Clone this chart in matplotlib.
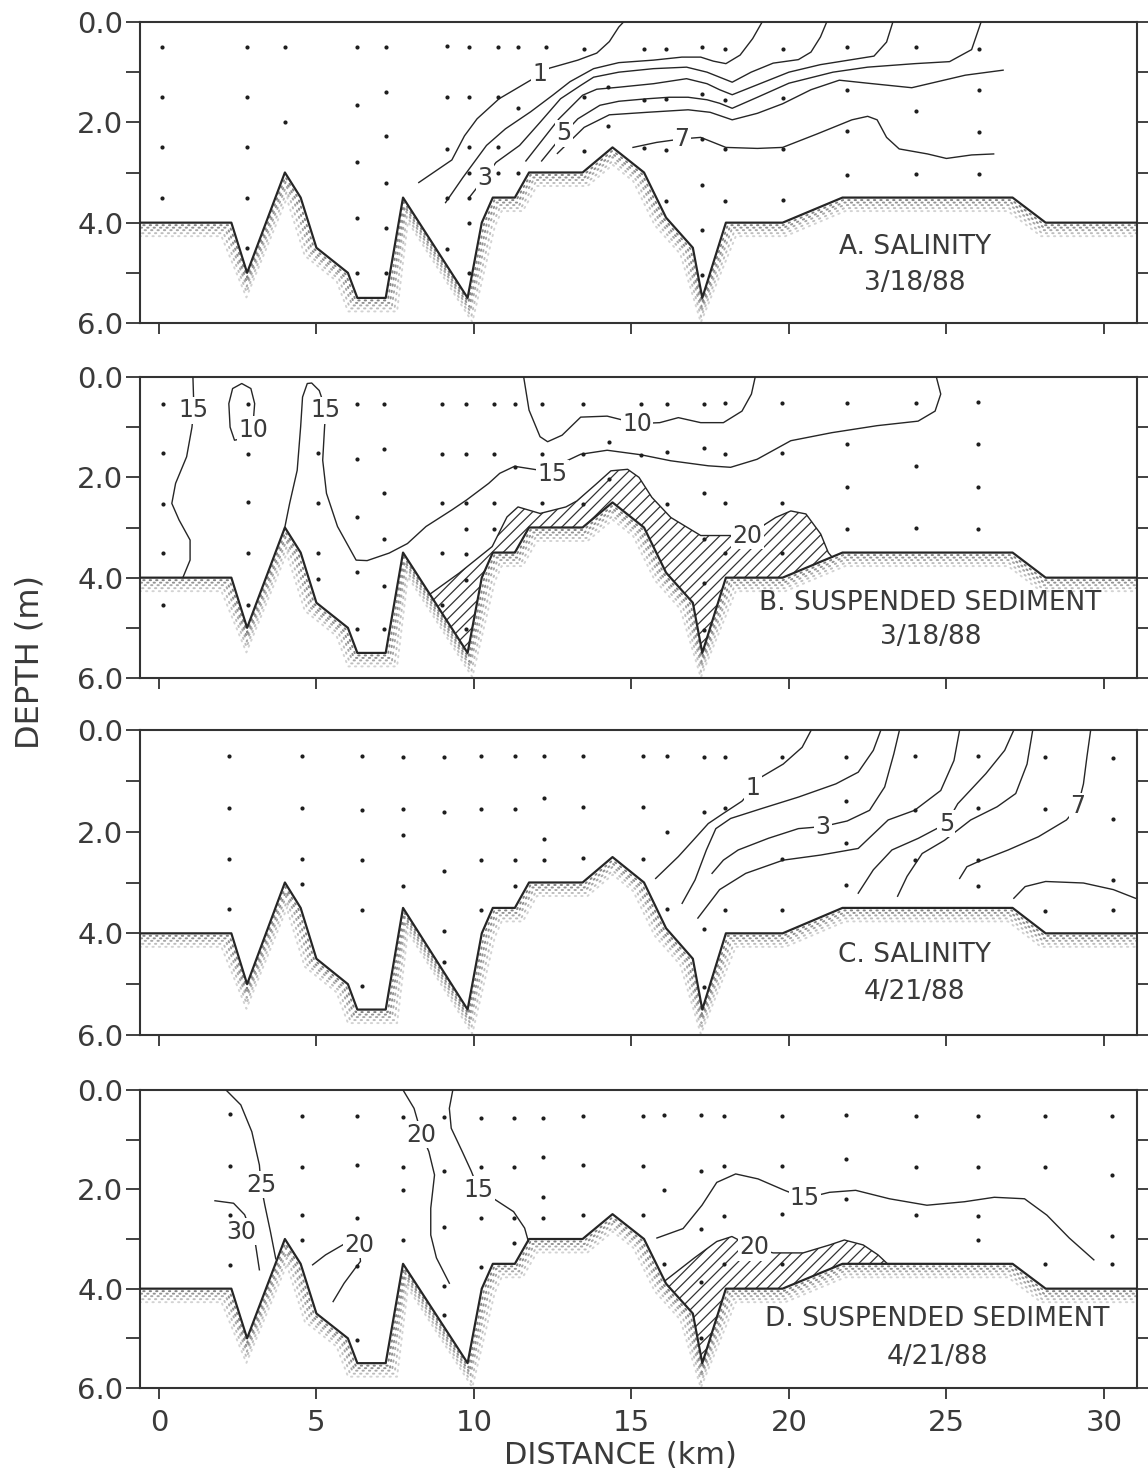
import matplotlib

matplotlib.use("Agg")
import matplotlib.pyplot as plt
import numpy as np

plt.rcParams["font.family"] = ["DejaVu Sans"]
plt.rcParams["hatch.linewidth"] = 0.9

INK = "#262626"
TXT = "#3a3a3a"

# bottom profile along the transect (km, m) - same in all four panels
BOTTOM_X = [-0.7, 2.3, 2.8, 4.0, 4.5, 5.0, 6.0, 6.3, 7.2, 7.75, 9.8, 10.25, 10.6,
            11.3, 11.75, 13.45, 14.4, 15.4, 16.1, 16.95, 17.25, 18.0, 19.8, 21.7,
            27.1, 28.15, 31.3]
BOTTOM_D = [4.0, 4.0, 5.0, 3.0, 3.5, 4.5, 5.0, 5.5, 5.5, 3.5, 5.5, 4.0, 3.5,
            3.5, 3.0, 3.0, 2.5, 3.0, 3.9, 4.5, 5.5, 4.0, 4.0, 3.5,
            3.5, 4.0, 4.0]

# sampling points: station distance and the depths sampled there
STN_A_X = [0.1, 2.8, 4.0, 6.3, 7.2, 9.15, 9.85, 10.75, 11.4, 12.3, 13.5, 14.25,
           15.4, 16.1, 17.25, 17.98, 19.8, 21.85, 24.05, 26.05]
STN_A_D = [[0.5, 1.5, 2.5, 3.5], [0.5, 1.5, 2.5, 3.5, 4.5], [0.5, 2.0],
           [0.5, 1.65, 2.8, 3.9, 5.0], [0.5, 1.4, 2.27, 3.2, 4.1, 5.0],
           [0.47, 1.5, 2.53, 3.5, 4.53], [0.5, 1.5, 2.5, 3.0, 3.5, 4.0, 5.0],
           [0.5, 1.5, 2.5, 3.0], [0.5, 1.72, 3.0], [0.5], [0.54, 1.5, 2.58],
           [1.3, 2.08], [0.54, 1.56, 2.51], [0.54, 1.53, 2.56, 3.56],
           [0.5, 1.44, 2.33, 3.24, 4.14, 5.04], [0.54, 1.56, 2.53, 3.56],
           [0.54, 1.51, 2.53, 3.55], [0.5, 1.35, 2.18, 3.04], [0.5, 1.77, 3.03],
           [0.54, 1.35, 2.2, 3.03]]

STN_B_X = [0.12, 2.83, 5.04, 6.28, 7.16, 9.0, 9.74, 10.64, 11.29, 12.16, 13.45,
           14.29, 15.32, 16.13, 17.32, 17.98, 19.79, 21.85, 24.05, 26.0]
STN_B_D = [[0.53, 1.51, 2.53, 3.51, 4.55], [0.53, 1.53, 2.5, 3.5, 4.55],
           [1.51, 2.51, 3.51, 4.03], [0.53, 1.64, 2.79, 3.88, 5.03],
           [0.53, 1.43, 2.31, 3.22, 4.16, 5.03], [0.53, 1.53, 2.51, 3.5, 4.54],
           [0.53, 1.53, 2.52, 3.03, 3.53, 4.05, 5.03], [0.53, 1.53, 2.52, 3.02],
           [0.53, 1.79], [0.53, 1.53, 2.52], [0.53, 1.54, 2.53], [1.29, 2.04],
           [0.53, 1.55], [0.53, 1.49, 2.53], [0.53, 1.42, 2.32, 3.23, 4.11, 5.05],
           [0.51, 1.53, 2.52, 3.51], [0.51, 1.51, 2.52, 3.51],
           [0.51, 1.33, 2.19, 3.02], [0.51, 1.77, 3.0], [0.49, 1.34, 2.19, 3.02]]

STN_C_X = [2.21, 4.53, 6.44, 7.74, 9.04, 10.21, 11.29, 12.24, 13.45, 15.36, 16.13,
           17.32, 17.98, 19.79, 21.82, 24.0, 26.01, 28.12, 30.3]
STN_C_D = [[0.52, 1.53, 2.53, 3.53], [0.52, 1.53, 2.53, 3.03],
           [0.52, 1.57, 2.55, 3.55, 5.03], [0.54, 1.56, 2.06, 3.06],
           [0.54, 1.62, 2.77, 3.95, 4.56], [0.52, 1.55, 2.55, 3.55],
           [0.52, 1.55, 2.55, 3.06], [0.52, 1.34, 2.15, 2.55], [0.52, 1.51, 2.51],
           [0.52, 1.51, 2.54], [0.52, 2.0, 3.52], [0.53, 1.62, 3.91, 5.05],
           [0.54, 1.53, 3.55], [0.54, 2.54, 3.55], [0.54, 1.4, 2.23, 3.05],
           [0.52, 1.57, 2.56], [0.52, 1.53, 2.56, 3.07], [0.54, 1.56, 3.57],
           [0.55, 1.76, 2.95, 3.54]]

STN_D_X = [2.25, 4.53, 6.29, 7.75, 9.04, 10.21, 11.26, 12.2, 13.45, 15.36, 16.05,
           17.21, 17.95, 19.77, 21.82, 24.02, 25.99, 28.13, 30.27]
STN_D_D = [[0.49, 1.54, 2.51, 3.52], [0.52, 1.56, 2.51, 3.03],
           [0.52, 1.51, 2.57, 3.54, 5.04], [0.54, 1.56, 2.01, 3.02],
           [0.54, 1.64, 2.75, 3.94, 4.54], [0.56, 1.56, 2.57, 3.57],
           [0.56, 1.56, 2.57, 3.08], [0.56, 1.35, 2.16, 2.57], [0.52, 1.51, 2.52],
           [0.53, 1.54, 2.52], [0.51, 2.02, 3.5], [0.5, 1.64, 2.79, 3.86, 5.0],
           [0.52, 1.53, 2.53, 3.5], [0.52, 1.54, 2.49, 3.5], [0.5, 1.38, 2.19],
           [0.53, 1.55, 2.52], [0.53, 1.55, 2.53, 3.03], [0.53, 1.55, 3.5],
           [0.53, 1.72, 2.93, 3.5]]

# A. salinity 3/18/88, isohalines (km, m)
A_ISO_1 = [(8.25, 3.2), (9.3, 2.75), (9.7, 2.27), (10.1, 1.93), (10.8, 1.53), (11.8, 1.16),
           (12.4, 0.92), (13.3, 0.76), (13.9, 0.62), (14.3, 0.39), (14.6, 0.1), (14.75, 0.0)]
A_ISO_2 = [(9.1, 3.6), (9.65, 3.1), (10.4, 2.46), (11.0, 2.13), (11.8, 1.79), (12.5, 1.46),
           (13.05, 1.19), (13.8, 0.93), (14.6, 0.81), (15.7, 0.76), (16.6, 0.7), (17.2, 0.7),
           (17.6, 0.78), (18.0, 0.83), (18.45, 0.66), (18.85, 0.33), (19.15, 0.0)]
A_ISO_3 = [(9.85, 3.5), (10.35, 3.1), (10.7, 2.8), (11.45, 2.46), (12.1, 2.0), (12.75, 1.53),
           (13.4, 1.26), (13.8, 1.1), (14.6, 1.0), (15.7, 0.93), (16.75, 0.9), (17.4, 1.0),
           (17.8, 1.1), (18.2, 1.2), (18.8, 1.0), (19.5, 0.82), (20.3, 0.75), (20.7, 0.6),
           (21.0, 0.3), (21.2, 0.0)]
A_ISO_4 = [(11.65, 2.77), (12.2, 2.33), (12.7, 1.93), (13.45, 1.46), (13.9, 1.34), (14.6, 1.3),
           (15.7, 1.23), (16.75, 1.13), (17.4, 1.23), (17.8, 1.35), (18.2, 1.45), (19.0, 1.25),
           (20.0, 1.0), (21.0, 0.85), (22.0, 0.75), (22.7, 0.68), (23.1, 0.4), (23.3, 0.0)]
A_ISO_5 = [(12.15, 2.77), (12.85, 2.23), (13.3, 1.93), (14.0, 1.66), (14.6, 1.58), (15.5, 1.53),
           (16.2, 1.5), (16.8, 1.5), (17.4, 1.55), (17.8, 1.62), (18.2, 1.72), (19.0, 1.5),
           (20.0, 1.22), (21.4, 1.0), (22.5, 0.9), (24.0, 0.83), (25.1, 0.79), (25.8, 0.55),
           (26.1, 0.0)]
A_ISO_6 = [(12.65, 2.62), (13.5, 2.1), (14.3, 1.85), (15.5, 1.8), (16.8, 1.75), (17.5, 1.8),
           (18.2, 1.95), (19.0, 1.82), (19.8, 1.63), (20.7, 1.35), (21.6, 1.16), (22.5, 1.22),
           (23.9, 1.31), (25.6, 1.06), (26.8, 0.96)]
A_ISO_7 = [(15.05, 2.5), (15.8, 2.4), (16.6, 2.33), (17.2, 2.3), (18.0, 2.5), (19.0, 2.52),
           (19.8, 2.5), (20.9, 2.23), (22.0, 1.95), (22.5, 1.88), (22.8, 1.95), (23.1, 2.3),
           (23.5, 2.53), (24.4, 2.63), (25.0, 2.72), (25.8, 2.65), (26.5, 2.63)]
A_LABELS = ["1", "3", "5", "7"]
A_LABEL_AT = [(12.1, 1.04), (10.35, 3.1), (12.85, 2.22), (16.6, 2.34)]

# B. suspended sediment 3/18/88 (mg/l)
B_ISO_15A = [(1.08, 0.0), (1.11, 0.6), (1.05, 1.0), (0.88, 1.59), (0.53, 2.12), (0.41, 2.52),
             (0.64, 2.85), (0.99, 3.25), (0.99, 3.65), (0.76, 4.0)]
B_ISO_10A = [(2.63, 1.23), (2.4, 1.26), (2.26, 1.0), (2.22, 0.53), (2.34, 0.23), (2.63, 0.13),
             (2.92, 0.23), (3.04, 0.53), (3.0, 0.85)]
B_ISO_15B = [(3.98, 3.05), (4.15, 2.52), (4.39, 1.86), (4.5, 0.99), (4.56, 0.4), (4.71, 0.13),
             (4.85, 0.12), (5.09, 0.27), (5.3, 0.66), (5.26, 0.99), (5.2, 1.66), (5.32, 2.32),
             (5.67, 2.98), (6.26, 3.65), (6.61, 3.66), (7.31, 3.51), (7.89, 3.32), (8.48, 2.98),
             (9.3, 2.65), (9.77, 2.45), (10.47, 2.12), (10.82, 1.92), (11.29, 1.78), (12.0, 1.85),
             (12.5, 1.93), (12.95, 1.67), (13.39, 1.54), (14.23, 1.46), (15.3, 1.55),
             (16.25, 1.67), (17.44, 1.77), (18.15, 1.8), (18.99, 1.64), (20.06, 1.27),
             (21.36, 1.11), (22.8, 0.97), (24.1, 0.88), (24.64, 0.68), (24.82, 0.34), (24.68, 0.0)]
B_ISO_10B = [(11.58, 0.0), (11.75, 0.66), (12.1, 1.19), (12.34, 1.29), (12.8, 1.16), (13.39, 0.8),
             (14.23, 0.78), (15.18, 0.93), (15.9, 0.91), (16.49, 0.81), (17.2, 0.91),
             (17.92, 0.91), (18.51, 0.68), (18.81, 0.34), (18.93, 0.0)]
B_ISO_20 = [(8.6, 4.33), (9.53, 3.91), (10.58, 3.38), (11.05, 2.79), (11.4, 2.59), (12.1, 2.72),
            (12.92, 2.59), (13.27, 2.47), (13.87, 2.14), (14.35, 1.87), (14.88, 1.84), (15.24, 2.0),
            (15.65, 2.4), (16.25, 2.8), (17.2, 3.16), (17.92, 3.16), (18.69, 3.16), (19.58, 2.8),
            (20.06, 2.67), (20.54, 2.73), (21.01, 3.13), (21.25, 3.5), (21.37, 3.59)]
B_LABELS = ["15", "10", "15", "15", "10", "20"]
B_LABEL_AT = [(1.11, 0.66), (3.0, 1.05), (5.3, 0.66), (12.5, 1.93), (15.18, 0.93), (18.69, 3.16)]

# C. salinity 4/21/88
C_ISO_1 = [(20.71, 0.0), (20.42, 0.34), (19.82, 0.67), (19.11, 0.93), (18.87, 1.15), (18.51, 1.4),
           (17.92, 1.64), (17.44, 1.84), (16.96, 2.17), (16.49, 2.49), (15.77, 2.92)]
C_ISO_2 = [(22.92, 0.0), (22.68, 0.4), (22.2, 0.83), (21.49, 1.06), (20.3, 1.32), (19.11, 1.55),
           (18.15, 1.74), (17.68, 1.94), (17.38, 2.36), (17.02, 2.95), (16.61, 3.41)]
C_ISO_3 = [(23.51, 0.0), (23.33, 0.47), (23.04, 1.12), (22.56, 1.58), (21.85, 1.79), (21.07, 1.9),
           (20.3, 1.94), (19.35, 2.13), (18.39, 2.36), (17.92, 2.56), (17.56, 2.82)]
C_ISO_4 = [(25.42, 0.0), (25.24, 0.6), (24.82, 1.19), (23.99, 1.58), (23.15, 1.77), (22.2, 2.33),
           (21.01, 2.46), (19.82, 2.56), (18.63, 2.82), (17.8, 3.14), (17.11, 3.7)]
C_ISO_5 = [(27.14, 0.0), (26.85, 0.4), (26.25, 0.86), (25.36, 1.45), (25.0, 1.84), (24.11, 2.13),
           (23.27, 2.36), (22.68, 2.75), (22.2, 3.21)]
C_ISO_6 = [(27.74, 0.0), (27.56, 0.67), (27.2, 1.25), (26.61, 1.51), (25.77, 1.77), (24.94, 2.17),
           (24.23, 2.43), (23.75, 2.88), (23.45, 3.27)]
C_ISO_7 = [(29.58, 0.0), (29.46, 0.53), (29.35, 1.06), (29.17, 1.51), (28.81, 1.77), (27.92, 2.1),
           (26.96, 2.36), (26.01, 2.59), (25.65, 2.69), (25.42, 2.92)]
C_ISO_8 = [(27.14, 3.31), (27.5, 3.08), (28.15, 2.98), (29.35, 3.01), (30.3, 3.14), (31.0, 3.31)]
C_LABELS = ["1", "3", "5", "7"]
C_LABEL_AT = [(18.87, 1.15), (21.07, 1.9), (25.0, 1.84), (29.17, 1.5)]

# D. suspended sediment 4/21/88
D_ISO_25 = [(2.13, 0.0), (2.6, 0.3), (2.95, 0.84), (3.19, 1.51), (3.24, 1.91), (3.36, 2.31),
            (3.54, 2.85), (3.71, 3.4)]
D_ISO_30 = [(1.78, 2.23), (2.37, 2.28), (2.72, 2.51), (2.9, 2.8), (3.07, 3.12), (3.19, 3.62)]
D_ISO_20A = [(4.88, 3.52), (5.29, 3.32), (5.94, 3.08), (6.35, 3.12), (6.4, 3.45), (6.23, 3.59),
             (5.88, 3.89), (5.53, 4.26)]
D_ISO_20B = [(7.75, 0.0), (8.1, 0.37), (8.34, 0.9), (8.57, 1.24), (8.75, 1.71), (8.63, 2.38),
             (8.63, 2.92), (8.81, 3.38), (9.22, 3.89)]
D_ISO_15A = [(9.33, 0.0), (9.22, 0.37), (9.28, 0.77), (9.63, 1.24), (9.92, 1.64), (10.15, 2.01),
             (10.68, 2.21), (11.26, 2.45), (11.61, 2.78), (11.73, 3.05)]
D_ISO_15B = [(15.81, 2.98), (16.64, 2.79), (17.24, 2.32), (17.71, 1.86), (18.31, 1.69),
             (19.02, 1.79), (19.86, 2.02), (20.51, 2.18), (21.29, 2.06), (22.12, 2.02),
             (23.19, 2.19), (24.38, 2.32), (25.57, 2.25), (26.52, 2.16), (27.48, 2.19),
             (28.19, 2.52), (28.9, 2.98), (29.68, 3.42)]
D_ISO_20C = [(16.05, 3.85), (17.0, 3.38), (17.71, 3.05), (18.19, 2.95), (18.9, 3.18), (19.5, 3.28),
             (20.45, 3.28), (21.29, 3.12), (21.76, 3.02), (22.36, 3.12), (22.83, 3.32), (23.13, 3.5)]
D_LABELS = ["25", "30", "20", "20", "15", "15", "20"]
D_LABEL_AT = [(3.24, 1.91), (2.62, 2.85), (6.35, 3.12), (8.34, 0.9), (10.15, 2.01),
              (20.51, 2.18), (18.9, 3.17)]

XTICKS = [0, 5, 10, 15, 20, 25, 30]
YTICKS = [0, 2, 4, 6]
YTICK_LABELS = ["0.0", "2.0", "4.0", "6.0"]


def hatched_zone(iso):
    """Polygon between an isoline that starts and ends on the bed and the bed itself."""
    xs = [p[0] for p in iso]
    ds = [p[1] for p in iso]
    bed = [(x, d) for x, d in zip(BOTTOM_X, BOTTOM_D) if xs[0] < x < xs[-1]]
    for x, d in reversed(bed):
        xs.append(x)
        ds.append(d)
    return xs, ds


def stipple_bed(ax):
    # rows of dots drawn parallel to the bed, on the sediment side
    pts = ax.transData.transform(np.column_stack([BOTTOM_X, BOTTOM_D]))
    seg = np.diff(pts, axis=0)
    seg /= np.hypot(seg[:, 0], seg[:, 1])[:, None]
    nrm = np.column_stack([seg[:, 1], -seg[:, 0]])
    vn = np.zeros_like(pts)
    vn[0], vn[-1] = nrm[0], nrm[-1]
    avg = nrm[:-1] + nrm[1:]
    avg /= np.hypot(avg[:, 0], avg[:, 1])[:, None]
    cos_half = np.maximum((avg * nrm[1:]).sum(axis=1), 0.55)
    vn[1:-1] = avg / cos_half[:, None]
    inv = ax.transData.inverted()
    rows = [(2.5, 0.85), (5.0, 0.75), (7.5, 0.6), (10.5, 0.45), (13.5, 0.3)]
    for k, (dist, alpha) in enumerate(rows):
        off = inv.transform(pts + vn * dist)
        ax.plot(off[:, 0], off[:, 1], ls=(k * 1.3, (0.7, 2.6)), lw=1.4, color="#6e6e6e",
                alpha=alpha, dash_capstyle="round", zorder=2.5)


def draw_panel(ax, stn_x, stn_d, isolines, labels, label_at, title, date, title_at, zone=None):
    ax.set_xlim(-0.6, 31.05)
    ax.set_ylim(6, 0)

    if zone is not None:
        zx, zd = hatched_zone(zone)
        ax.fill(zx, zd, facecolor="none", edgecolor="#333333", hatch="///", lw=0, zorder=2)

    stipple_bed(ax)
    ax.plot(BOTTOM_X, BOTTOM_D, color=INK, lw=1.6, zorder=3)

    for iso in isolines:
        ax.plot([p[0] for p in iso], [p[1] for p in iso], color=INK, lw=1.0, zorder=3)

    px, pd = [], []
    for x, depths in zip(stn_x, stn_d):
        px += [x] * len(depths)
        pd += depths
    ax.scatter(px, pd, s=9, color="#1e1e1e", lw=0, zorder=4)

    for s, (x, d) in zip(labels, label_at):
        ax.text(x, d, s, fontsize=17, color=TXT, ha="center", va="center", zorder=6,
                bbox=dict(boxstyle="square,pad=0.06", fc="white", ec="none"))

    tx, td, dd = title_at
    ax.text(tx, td, title, fontsize=19, color=TXT, ha="center", va="center", zorder=6)
    ax.text(tx, dd, date, fontsize=19, color=TXT, ha="center", va="center", zorder=6)

    for sp in ax.spines.values():
        sp.set_linewidth(1.5)
        sp.set_color("#333333")
    ax.set_yticks(YTICKS)
    ax.set_yticklabels(YTICK_LABELS)
    ax.set_yticks([1, 3, 5], minor=True)
    ax.set_xticks(XTICKS)
    ax.tick_params(axis="y", which="both", direction="out", length=10, width=1.3,
                   left=True, right=True, labelsize=21, pad=2, labelcolor=TXT, color="#333333")
    ax.tick_params(axis="x", direction="out", length=8, width=1.3, labelsize=21, pad=7,
                   labelcolor=TXT, color="#333333")


fig = plt.figure(figsize=(11.48, 14.76), dpi=100)
W = 1148.0
H = 1476.0
left = 140 / W
width = 997 / W
tops = [22, 377, 730, 1090]
bottoms = [323, 678, 1035, 1388]
axes = [fig.add_axes([left, 1 - b / H, width, (b - t) / H]) for t, b in zip(tops, bottoms)]

draw_panel(axes[0], STN_A_X, STN_A_D,
           [A_ISO_1, A_ISO_2, A_ISO_3, A_ISO_4, A_ISO_5, A_ISO_6, A_ISO_7],
           A_LABELS, A_LABEL_AT, "A. SALINITY", "3/18/88", (24.0, 4.48, 5.2))
draw_panel(axes[1], STN_B_X, STN_B_D,
           [B_ISO_15A, B_ISO_10A, B_ISO_15B, B_ISO_10B, B_ISO_20],
           B_LABELS, B_LABEL_AT, "B. SUSPENDED SEDIMENT", "3/18/88", (24.5, 4.5, 5.18),
           zone=B_ISO_20)
draw_panel(axes[2], STN_C_X, STN_C_D,
           [C_ISO_1, C_ISO_2, C_ISO_3, C_ISO_4, C_ISO_5, C_ISO_6, C_ISO_7, C_ISO_8],
           C_LABELS, C_LABEL_AT, "C. SALINITY", "4/21/88", (24.0, 4.43, 5.16))
draw_panel(axes[3], STN_D_X, STN_D_D,
           [D_ISO_25, D_ISO_30, D_ISO_20A, D_ISO_20B, D_ISO_15A, D_ISO_15B, D_ISO_20C],
           D_LABELS, D_LABEL_AT, "D. SUSPENDED SEDIMENT", "4/21/88", (24.7, 4.62, 5.38),
           zone=D_ISO_20C)

for ax in axes[:3]:
    ax.tick_params(axis="x", labelbottom=False)

fig.text(30 / W, 1 - 662 / H, "DEPTH (m)", rotation=90, fontsize=23, color=TXT,
         ha="center", va="center")
fig.text(620 / W, 1 - 1456 / H, "DISTANCE (km)", fontsize=22, color=TXT,
         ha="center", va="center")

fig.savefig("out.png", dpi=100)
